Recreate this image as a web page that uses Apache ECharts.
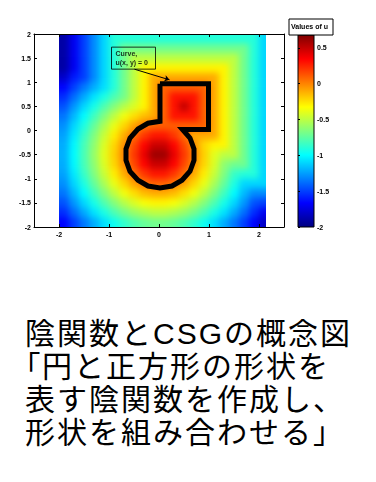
<!DOCTYPE html>
<html><head><meta charset="utf-8">
<script src="https://cdn.jsdelivr.net/npm/echarts@6/dist/echarts.min.js"></script>
<style>
html,body{margin:0;padding:0;background:#fff;}
#heat{position:absolute;left:0;top:0;width:376px;height:270px;filter:blur(3px);}
#chart{position:absolute;left:0;top:0;width:376px;height:270px;}
.cap{position:absolute;left:25px;height:33px;font-family:"Noto Sans CJK JP";font-size:30px;line-height:33px;letter-spacing:2px;color:#000;white-space:nowrap;}
.lat{font-family:"Liberation Sans";}
.pb{font-feature-settings:"palt";}
</style></head><body>
<div id="heat"></div>
<div id="chart"></div>
<div class="cap" style="top:315px">陰関数と<span class="lat">CSG</span>の概念図</div>
<div class="cap" style="top:348px"><span class="pb">「</span>円と正方形の形状を</div>
<div class="cap" style="top:381px">表す陰関数を作成し、</div>
<div class="cap" style="top:414px">形状を組み合わせる」</div>
<script>
// grid of cell centres
const xCenters = [-1.9,-1.7,-1.5,-1.3,-1.1,-0.9,-0.7,-0.5,-0.3,-0.1,0.1,0.3,0.5,0.7,0.9,1.1,1.3,1.5,1.7,1.9,2.1];
const yCenters = [1.9,1.7,1.5,1.3,1.1,0.9,0.7,0.5,0.3,0.1,-0.1,-0.3,-0.5,-0.7,-0.9,-1.1,-1.3,-1.5,-1.7,-1.9];
// values of u, rows top (y=1.9) to bottom (y=-1.9)
const uGrid = [
 [-1.9,-1.7,-1.5,-1.3,-1.1,-0.9,-0.9,-0.9,-0.9,-0.9,-0.9,-0.9,-0.9,-0.9,-0.9,-0.9,-0.9,-0.9,-0.9,-0.9,-1.1],
 [-1.9,-1.7,-1.5,-1.3,-1.1,-0.9,-0.7,-0.7,-0.7,-0.7,-0.7,-0.7,-0.7,-0.7,-0.7,-0.7,-0.7,-0.7,-0.7,-0.9,-1.1],
 [-1.9,-1.7,-1.5,-1.3,-1.1,-0.9,-0.7,-0.5,-0.5,-0.5,-0.5,-0.5,-0.5,-0.5,-0.5,-0.5,-0.5,-0.5,-0.7,-0.9,-1.1],
 [-1.9,-1.7,-1.5,-1.3,-1.1,-0.9,-0.7,-0.5,-0.3,-0.3,-0.3,-0.3,-0.3,-0.3,-0.3,-0.3,-0.3,-0.5,-0.7,-0.9,-1.1],
 [-1.8,-1.6,-1.5,-1.3,-1.1,-0.9,-0.7,-0.5,-0.3,-0.1,-0.1,-0.1,-0.1,-0.1,-0.1,-0.1,-0.3,-0.5,-0.7,-0.9,-1.1],
 [-1.66,-1.5,-1.35,-1.21,-1.08,-0.9,-0.7,-0.5,-0.3,-0.1,0.1,0.1,0.1,0.1,0.1,-0.1,-0.3,-0.5,-0.7,-0.9,-1.1],
 [-1.55,-1.38,-1.22,-1.07,-0.93,-0.8,-0.69,-0.5,-0.3,-0.1,0.1,0.3,0.3,0.3,0.1,-0.1,-0.3,-0.5,-0.7,-0.9,-1.1],
 [-1.45,-1.27,-1.1,-0.94,-0.79,-0.65,-0.52,-0.42,-0.3,-0.1,0.1,0.3,0.5,0.3,0.1,-0.1,-0.3,-0.5,-0.7,-0.9,-1.1],
 [-1.36,-1.18,-1.0,-0.83,-0.66,-0.5,-0.36,-0.24,-0.15,-0.1,0.1,0.3,0.3,0.3,0.1,-0.1,-0.3,-0.5,-0.7,-0.9,-1.1],
 [-1.29,-1.1,-0.92,-0.73,-0.55,-0.38,-0.22,-0.08,0.03,0.09,0.1,0.1,0.1,0.1,0.1,-0.1,-0.3,-0.5,-0.7,-0.9,-1.1],
 [-1.24,-1.05,-0.85,-0.66,-0.47,-0.28,-0.11,0.06,0.2,0.29,0.29,0.2,0.06,-0.1,-0.1,-0.1,-0.3,-0.5,-0.7,-0.9,-1.1],
 [-1.21,-1.01,-0.81,-0.62,-0.42,-0.22,-0.03,0.16,0.34,0.48,0.48,0.34,0.16,-0.03,-0.22,-0.3,-0.3,-0.5,-0.7,-0.9,-1.1],
 [-1.2,-1.0,-0.8,-0.6,-0.4,-0.2,0.0,0.2,0.4,0.6,0.6,0.4,0.2,0.0,-0.2,-0.4,-0.5,-0.5,-0.7,-0.9,-1.1],
 [-1.21,-1.01,-0.81,-0.62,-0.42,-0.22,-0.03,0.16,0.34,0.48,0.48,0.34,0.16,-0.03,-0.22,-0.42,-0.62,-0.7,-0.7,-0.9,-1.1],
 [-1.24,-1.05,-0.85,-0.66,-0.47,-0.28,-0.11,0.06,0.2,0.29,0.29,0.2,0.06,-0.11,-0.28,-0.47,-0.66,-0.85,-0.9,-0.9,-1.1],
 [-1.29,-1.1,-0.92,-0.73,-0.55,-0.38,-0.22,-0.08,0.03,0.09,0.09,0.03,-0.08,-0.22,-0.38,-0.55,-0.73,-0.92,-1.1,-1.1,-1.1],
 [-1.36,-1.18,-1.0,-0.83,-0.66,-0.5,-0.36,-0.24,-0.15,-0.11,-0.11,-0.15,-0.24,-0.36,-0.5,-0.66,-0.83,-1.0,-1.18,-1.3,-1.3],
 [-1.45,-1.27,-1.1,-0.94,-0.79,-0.65,-0.52,-0.42,-0.34,-0.3,-0.3,-0.34,-0.42,-0.52,-0.65,-0.79,-0.94,-1.1,-1.27,-1.45,-1.5],
 [-1.55,-1.38,-1.22,-1.07,-0.93,-0.8,-0.69,-0.6,-0.54,-0.5,-0.5,-0.54,-0.6,-0.69,-0.8,-0.93,-1.07,-1.22,-1.38,-1.55,-1.7],
 [-1.66,-1.5,-1.35,-1.21,-1.08,-0.96,-0.87,-0.79,-0.73,-0.7,-0.7,-0.73,-0.79,-0.87,-0.96,-1.08,-1.21,-1.35,-1.5,-1.66,-1.82]
];
// extent of the coloured (meshed) domain
const domainX = [-2.0, 2.14];
const domainY = [-2.0, 2.0];
const xTicks = [-2,-1,0,1,2];
const yTicks = [-2,-1.5,-1,-0.5,0,0.5,1,1.5,2];
const cbTicks = [-2,-1.5,-1,-0.5,0,0.5];
const cbRange = [-2, 0.68];
// zero level curve u(x,y)=0 (square + circle union outline)
const zeroCurve = [[0.02,0.97],[0.99,0.97],[0.99,0.02],[0.47,0.02],[0.62,-0.155],[0.70,-0.38],[0.70,-0.62],[0.62,-0.845],[0.46,-1.03],[0.26,-1.15],[0.02,-1.19],[-0.22,-1.15],[-0.42,-1.03],[-0.58,-0.85],[-0.66,-0.62],[-0.66,-0.38],[-0.58,-0.155],[-0.42,0.03],[-0.22,0.15],[0.02,0.19],[0.02,0.97]];
const noteAnchor = [-0.95, 1.50];
const noteArrow = [[-0.49, 1.27], [0.21, 1.05]];
const noteText = 'Curve,\nu(x, y) = 0';
const cbTitle = 'Values of u';

const jet = ['#000080','#0000ff','#0080ff','#00ffff','#80ff80','#ffff00','#ff8000','#ff0000','#800000'];
const heatData = [];
yCenters.forEach((y, j) => xCenters.forEach((x, i) => heatData.push([x, y, uGrid[j][i], i, j])));

const gridMain = {left: 34, top: 34, width: 250, height: 193};

// ---- heat layer (smoothed) ----
const heat = echarts.init(document.getElementById('heat'), null, {renderer: 'canvas'});
heat.setOption({
  animation: false,
  grid: gridMain,
  xAxis: {type: 'value', min: -2.5, max: 2.5, show: false},
  yAxis: {type: 'value', min: -2, max: 2, show: false},
  visualMap: {type: 'continuous', show: false, min: cbRange[0], max: cbRange[1], dimension: 2, inRange: {color: jet}},
  series: [{
    type: 'custom', clip: false, data: heatData,
    renderItem: function (params, api) {
      const p = api.coord([api.value(0) - 0.1, api.value(1) + 0.1]);
      const s = api.size([0.2, 0.2]);
      const i = api.value(3), j = api.value(4), E = 14;
      let x = p[0], y = p[1], w = s[0] + 0.6, h = s[1] + 0.6;
      if (i === 0) { x -= E; w += E; }
      if (i === xCenters.length - 1) { w += E; }
      if (j === 0) { y -= E; h += E; }
      if (j === yCenters.length - 1) { h += E; }
      return {type: 'rect', shape: {x: x, y: y, width: w, height: h}, style: {fill: api.visual('color'), stroke: null}};
    }
  }]
});
(function () {
  const a = heat.convertToPixel({gridIndex: 0}, [domainX[0], domainY[1]]);
  const b = heat.convertToPixel({gridIndex: 0}, [domainX[1], domainY[0]]);
  const el = document.getElementById('heat');
  el.style.clipPath = 'inset(' + a[1] + 'px ' + (376 - b[0]) + 'px ' + (270 - b[1]) + 'px ' + a[0] + 'px)';
})();

// ---- axes, outline, annotation, colour bar ----
const chart = echarts.init(document.getElementById('chart'), null, {renderer: 'svg'});
const lab = {fontSize: 7, fontWeight: 'bold', color: '#000', fontFamily: 'Liberation Sans'};
const axLine = {show: true, onZero: false, lineStyle: {color: '#000', width: 1}};
chart.setOption({
  animation: false,
  backgroundColor: 'transparent',
  grid: [
    gridMain,
    {left: 298, top: 35, width: 16, height: 192}
  ],
  xAxis: [
    {type: 'value', gridIndex: 0, min: -2.5, max: 2.5, z: 10, axisLine: axLine, splitLine: {show: false},
     axisTick: {inside: true, length: 3, customValues: xTicks, lineStyle: {color: '#000'}},
     axisLabel: Object.assign({customValues: xTicks, margin: 4}, lab)},
    {type: 'value', gridIndex: 0, position: 'top', min: -2.5, max: 2.5, z: 10, axisLine: axLine, splitLine: {show: false},
     axisTick: {inside: true, length: 3, customValues: xTicks, lineStyle: {color: '#000'}},
     axisLabel: {show: false}},
    {type: 'value', gridIndex: 1, min: 0, max: 1, show: false}
  ],
  yAxis: [
    {type: 'value', gridIndex: 0, min: -2, max: 2, z: 10, axisLine: axLine, splitLine: {show: false},
     axisTick: {inside: true, length: 3, customValues: yTicks, lineStyle: {color: '#000'}},
     axisLabel: Object.assign({customValues: yTicks, margin: 3}, lab)},
    {type: 'value', gridIndex: 0, position: 'right', min: -2, max: 2, z: 10, axisLine: axLine, splitLine: {show: false},
     axisTick: {inside: true, length: 3, customValues: yTicks, lineStyle: {color: '#000'}},
     axisLabel: {show: false}},
    {type: 'value', gridIndex: 1, position: 'right', min: cbRange[0], max: cbRange[1], z: 10,
     axisLine: {show: false}, splitLine: {show: false},
     axisTick: {inside: false, length: 2, customValues: cbTicks, lineStyle: {color: '#000'}},
     axisLabel: Object.assign({customValues: cbTicks, margin: 3}, lab)}
  ],
  graphic: [
    {type: 'rect', shape: {x: 289, y: 19, width: 44, height: 16}, style: {fill: '#fff', stroke: '#000', lineWidth: 1}, z: 20},
    {type: 'text', x: 291, y: 23, style: {text: cbTitle, fontSize: 7, fontWeight: 'bold', fill: '#000', fontFamily: 'Liberation Sans'}, z: 21}
  ],
  series: [
    {
      type: 'line', xAxisIndex: 0, yAxisIndex: 0, data: zeroCurve, symbol: 'none', z: 5,
      lineStyle: {color: '#000', width: 5, join: 'miter'}
    },
    {
      type: 'scatter', xAxisIndex: 0, yAxisIndex: 0, data: [noteAnchor], symbolSize: 0, z: 8,
      label: {show: true, position: 'inside', formatter: noteText, fontSize: 7, fontWeight: 'bold', color: '#000',
              fontFamily: 'Liberation Sans', lineHeight: 9, align: 'left', verticalAlign: 'middle',
              borderColor: '#000', borderWidth: 1, padding: [2, 3, 2, 4], width: 37, height: 18},
      markLine: {silent: true, symbol: ['none', 'arrow'], symbolSize: 5, label: {show: false},
                 lineStyle: {color: '#000', width: 1, type: 'solid'},
                 data: [[{coord: noteArrow[0]}, {coord: noteArrow[1]}]]}
    },
    {
      type: 'custom', xAxisIndex: 2, yAxisIndex: 2, data: [[0, cbRange[0], 1, cbRange[1]]],
      renderItem: function (params, api) {
        const a = api.coord([api.value(0), api.value(1)]);
        const b = api.coord([api.value(2), api.value(3)]);
        const stops = jet.map((c, i) => ({offset: i / (jet.length - 1), color: c}));
        return {type: 'rect', shape: {x: a[0], y: b[1], width: b[0] - a[0], height: a[1] - b[1]},
                style: {fill: new echarts.graphic.LinearGradient(0, 1, 0, 0, stops), stroke: '#000', lineWidth: 1}};
      }
    }
  ]
});
</script>
</body></html>
